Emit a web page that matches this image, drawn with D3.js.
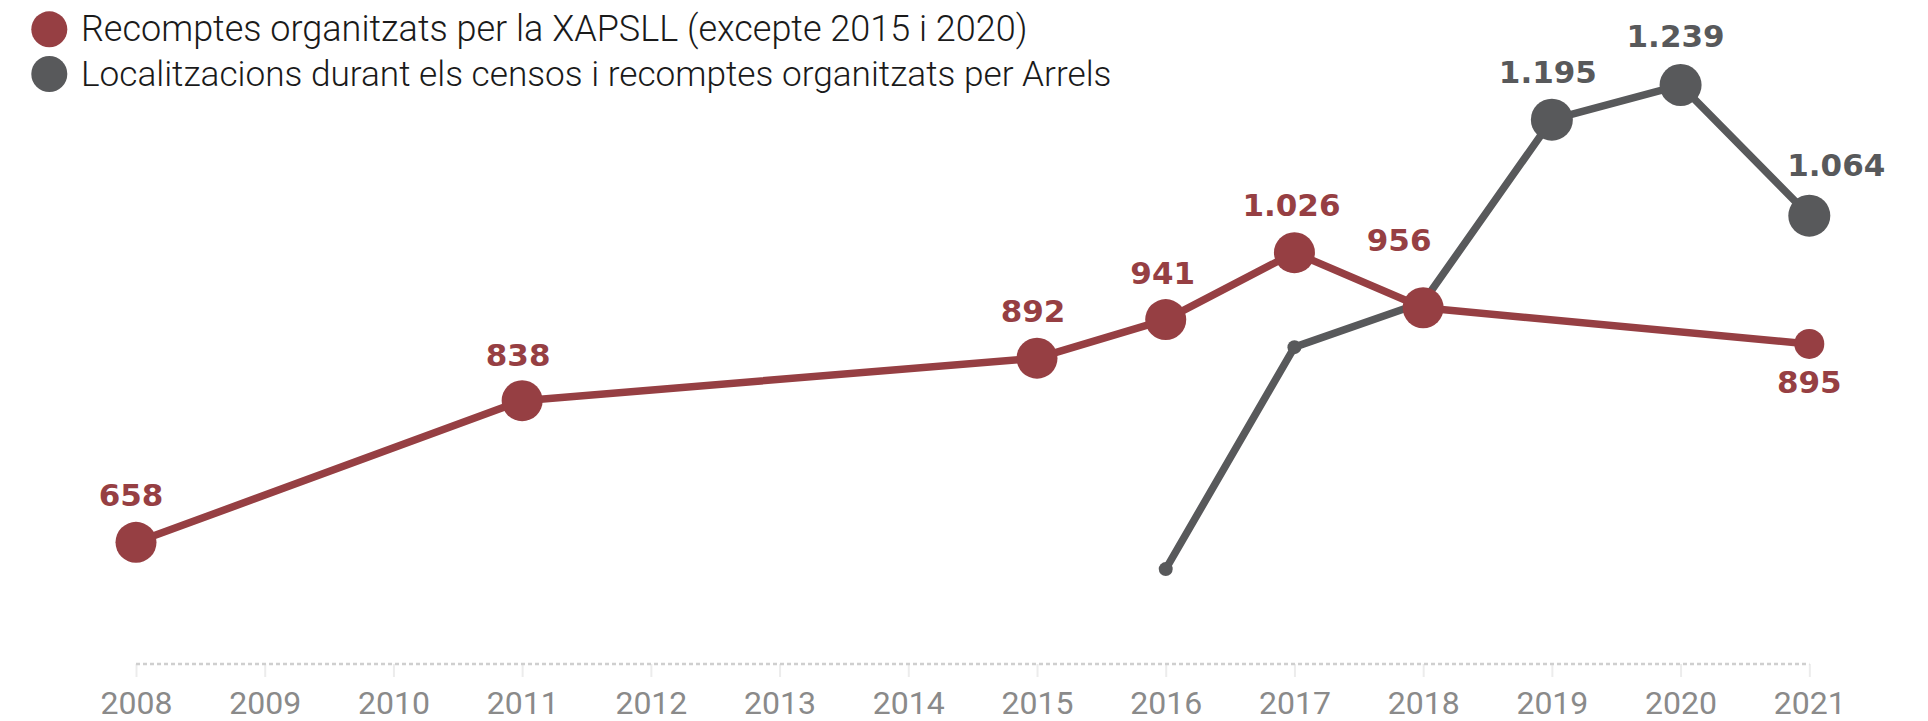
<!DOCTYPE html>
<html>
<head>
<meta charset="utf-8">
<script src="https://cdn.jsdelivr.net/npm/d3@7"></script>
<style>
  html, body { margin: 0; padding: 0; background: #fff; }
  svg { display: block; }
</style>
</head>
<body>
<svg id="chart" width="1928" height="721"></svg>
<script>
// ---- data ----
const years = [2008, 2009, 2010, 2011, 2012, 2013, 2014, 2015, 2016, 2017, 2018, 2019, 2020, 2021];
const redYears = [2008, 2011, 2015, 2016, 2017, 2018, 2021];
const redValues = [658, 838, 892, 941, 1026, 956, 910];
const redLabels = ["658", "838", "892", "941", "1.026", "956", "895"];
const greyYears = [2016, 2017, 2018, 2019, 2020, 2021];
const greyValues = [624, 906, 963, 1195, 1239, 1073];
const greyLabels = ["", "", "", "1.195", "1.239", "1.064"];
const legendNames = [
  "Recomptes organitzats per la XAPSLL (excepte 2015 i 2020)",
  "Localitzacions durant els censos i recomptes organitzats per Arrels"
];

// ---- styles ----
const RED = "#963f43", GREY = "#58595b";
const redRadius = [20.5, 20.5, 20.5, 20.5, 20.5, 20.5, 15];
const greyRadius = [7, 7, 7, 21, 21, 21];
// label offsets [dx, dy] relative to point
const redLabelOff = [[-5,-36],[-4,-35],[-4,-36],[-3,-36],[-3,-37],[-24,-57],[0,49]];
const greyLabelOff = [[0,0],[0,0],[0,0],[-4,-37],[-5,-38],[27,-40]];

const svg = d3.select("#chart");
const x = d3.scaleLinear().domain([2008, 2021]).range([136, 1809.3]);
const y = d3.scaleLinear().domain([500, 1300]).range([666.7, 37]);

// ---- x axis ----
const axisY = 664;
const axis = d3.axisBottom(x).tickValues(years).tickFormat(d3.format("d")).tickSize(13).tickPadding(14);
const gAxis = svg.append("g").attr("transform", `translate(0,${axisY})`).call(axis);
gAxis.select(".domain").remove();
gAxis.selectAll(".tick line").attr("stroke", "#ececec").attr("stroke-width", 2);
gAxis.selectAll(".tick text")
  .attr("fill", "#8a8a8a")
  .style("font-family", "Roboto, sans-serif")
  .style("font-weight", 400)
  .style("font-size", "32px");
svg.append("line")
  .attr("x1", x(2008)).attr("x2", x(2021))
  .attr("y1", axisY).attr("y2", axisY)
  .attr("stroke", "#cfcfcf").attr("stroke-width", 2.5)
  .attr("stroke-dasharray", "4,3");

// ---- series ----
function drawSeries(yrs, vals, color, radii, labels, offs) {
  const pts = yrs.map((yr, i) => ({yr, v: vals[i], r: radii[i], lab: labels[i], off: offs[i]}));
  const line = d3.line().x(d => x(d.yr)).y(d => y(d.v));
  const g = svg.append("g");
  g.append("path").datum(pts).attr("d", line)
    .attr("fill", "none").attr("stroke", color).attr("stroke-width", 7.5)
    .attr("stroke-linejoin", "round");
  g.selectAll("circle").data(pts).join("circle")
    .attr("cx", d => x(d.yr)).attr("cy", d => y(d.v)).attr("r", d => d.r)
    .attr("fill", color);
  return {g, pts};
}
function drawLabels(s, color) {
  s.g.selectAll("text.lab").data(s.pts.filter(d => d.lab)).join("text")
    .attr("class", "lab")
    .attr("x", d => x(d.yr) + d.off[0]).attr("y", d => y(d.v) + d.off[1])
    .attr("text-anchor", "middle")
    .attr("fill", color)
    .style("font-family", "'DejaVu Sans', Verdana, sans-serif")
    .style("font-weight", 700)
    .style("font-size", "31px")
    .text(d => d.lab);
}
const grey = drawSeries(greyYears, greyValues, GREY, greyRadius, greyLabels, greyLabelOff);
const red = drawSeries(redYears, redValues, RED, redRadius, redLabels, redLabelOff);
drawLabels(grey, GREY);
drawLabels(red, RED);

// ---- legend ----
const legend = svg.append("g");
const legColors = [RED, GREY];
const legY = [29.3, 74];
const targetW = [948, 1031];
legendNames.forEach((name, i) => {
  legend.append("circle").attr("cx", 49.3).attr("cy", legY[i]).attr("r", 18).attr("fill", legColors[i]);
  const t = legend.append("text")
    .attr("x", 81).attr("y", legY[i] + 12)
    .attr("fill", "#1a1a1a")
    .style("font-family", "Roboto, sans-serif")
    .style("font-weight", 300)
    .style("font-size", "32px")
    .text(name);
  const w = t.node().getComputedTextLength();
  const fs = 32 * targetW[i] / w;
  t.style("font-size", Math.min(Math.max(fs, 28), 36) + "px");
});
</script>
</body>
</html>
